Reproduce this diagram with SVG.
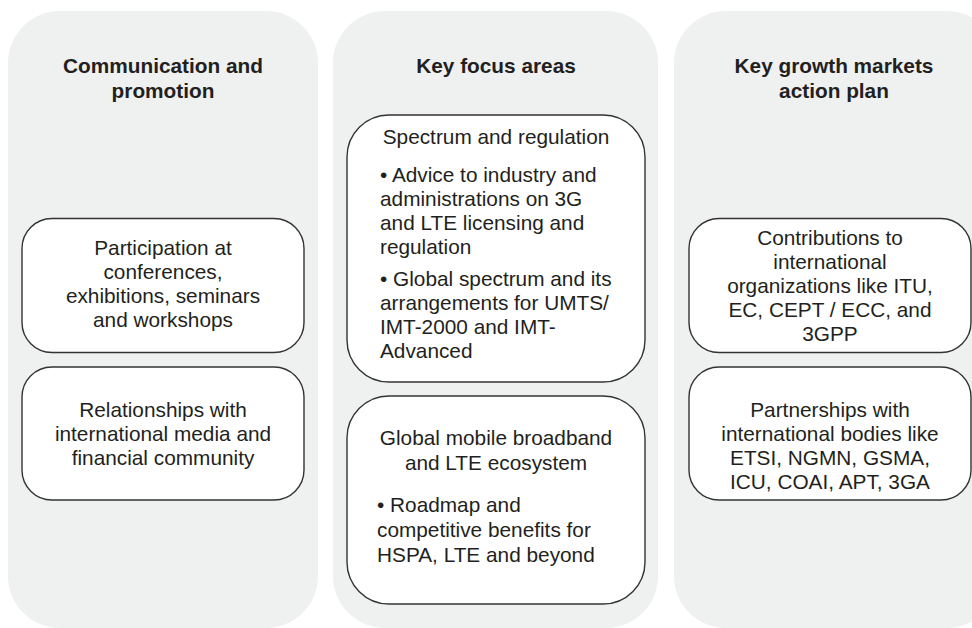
<svg xmlns="http://www.w3.org/2000/svg" width="972" height="628" viewBox="0 0 972 628">
  <style>
    .panel { fill: #eff0f0; }
    .box { fill: #ffffff; stroke: #333333; stroke-width: 1.4; }
    .title { font-family: "Liberation Sans", Arial, sans-serif; font-weight: bold; font-size: 20.8px; fill: #231f20; text-anchor: middle; }
    .body { font-family: "Liberation Sans", Arial, sans-serif; font-size: 20.8px; fill: #231f20; }
    .mid { text-anchor: middle; }
  </style>
  <rect width="972" height="628" fill="#ffffff"/>

  <!-- Column panels -->
  <g id="col-communication">
    <rect class="panel" x="8" y="11" width="310" height="617" rx="52"/>
    <text class="title" x="163" y="73">Communication and</text>
    <text class="title" x="163" y="98">promotion</text>
  </g>
  <g id="col-focus">
    <rect class="panel" x="333" y="11" width="325" height="617" rx="52"/>
    <text class="title" x="496" y="73">Key focus areas</text>
  </g>
  <g id="col-growth">
    <rect class="panel" x="674" y="11" width="325" height="617" rx="52"/>
    <text class="title" x="834" y="73">Key growth markets</text>
    <text class="title" x="834" y="98">action plan</text>
  </g>

  <!-- Communication and promotion -->
  <g id="participation">
    <rect class="box" x="22" y="218.5" width="282" height="134" rx="30"/>
    <text class="body mid" x="163" y="255">Participation at</text>
    <text class="body mid" x="163" y="279">conferences,</text>
    <text class="body mid" x="163" y="303">exhibitions, seminars</text>
    <text class="body mid" x="163" y="327">and workshops</text>
  </g>
  <g id="relationships">
    <rect class="box" x="22" y="367" width="282" height="133" rx="30"/>
    <text class="body mid" x="163" y="417">Relationships with</text>
    <text class="body mid" x="163" y="441">international media and</text>
    <text class="body mid" x="163" y="465">financial community</text>
  </g>

  <!-- Key focus areas -->
  <g id="spectrum">
    <rect class="box" x="347" y="115" width="298" height="267" rx="42"/>
    <text class="body mid" x="496" y="144">Spectrum and regulation</text>
    <text class="body" x="380" y="182">• Advice to industry and</text>
    <text class="body" x="380" y="206">administrations on 3G</text>
    <text class="body" x="380" y="230">and LTE licensing and</text>
    <text class="body" x="380" y="254">regulation</text>
    <text class="body" x="380" y="286">• Global spectrum and its</text>
    <text class="body" x="380" y="310">arrangements for UMTS/</text>
    <text class="body" x="380" y="334">IMT-2000 and IMT-</text>
    <text class="body" x="380" y="358">Advanced</text>
  </g>
  <g id="broadband">
    <rect class="box" x="347" y="396" width="298" height="208" rx="42"/>
    <text class="body mid" x="496" y="445">Global mobile broadband</text>
    <text class="body mid" x="496" y="470">and LTE ecosystem</text>
    <text class="body" x="377" y="512">• Roadmap and</text>
    <text class="body" x="377" y="537">competitive benefits for</text>
    <text class="body" x="377" y="562">HSPA, LTE and beyond</text>
  </g>

  <!-- Key growth markets action plan -->
  <g id="contributions">
    <rect class="box" x="689" y="218.5" width="282" height="134" rx="30"/>
    <text class="body mid" x="830" y="245">Contributions to</text>
    <text class="body mid" x="830" y="269">international</text>
    <text class="body mid" x="830" y="293">organizations like ITU,</text>
    <text class="body mid" x="830" y="317">EC, CEPT / ECC, and</text>
    <text class="body mid" x="830" y="341">3GPP</text>
  </g>
  <g id="partnerships">
    <rect class="box" x="689" y="367" width="282" height="133" rx="30"/>
    <text class="body mid" x="830" y="417">Partnerships with</text>
    <text class="body mid" x="830" y="441">international bodies like</text>
    <text class="body mid" x="830" y="465">ETSI, NGMN, GSMA,</text>
    <text class="body mid" x="830" y="489">ICU, COAI, APT, 3GA</text>
  </g>

  <g id="connectors"></g>
</svg>
